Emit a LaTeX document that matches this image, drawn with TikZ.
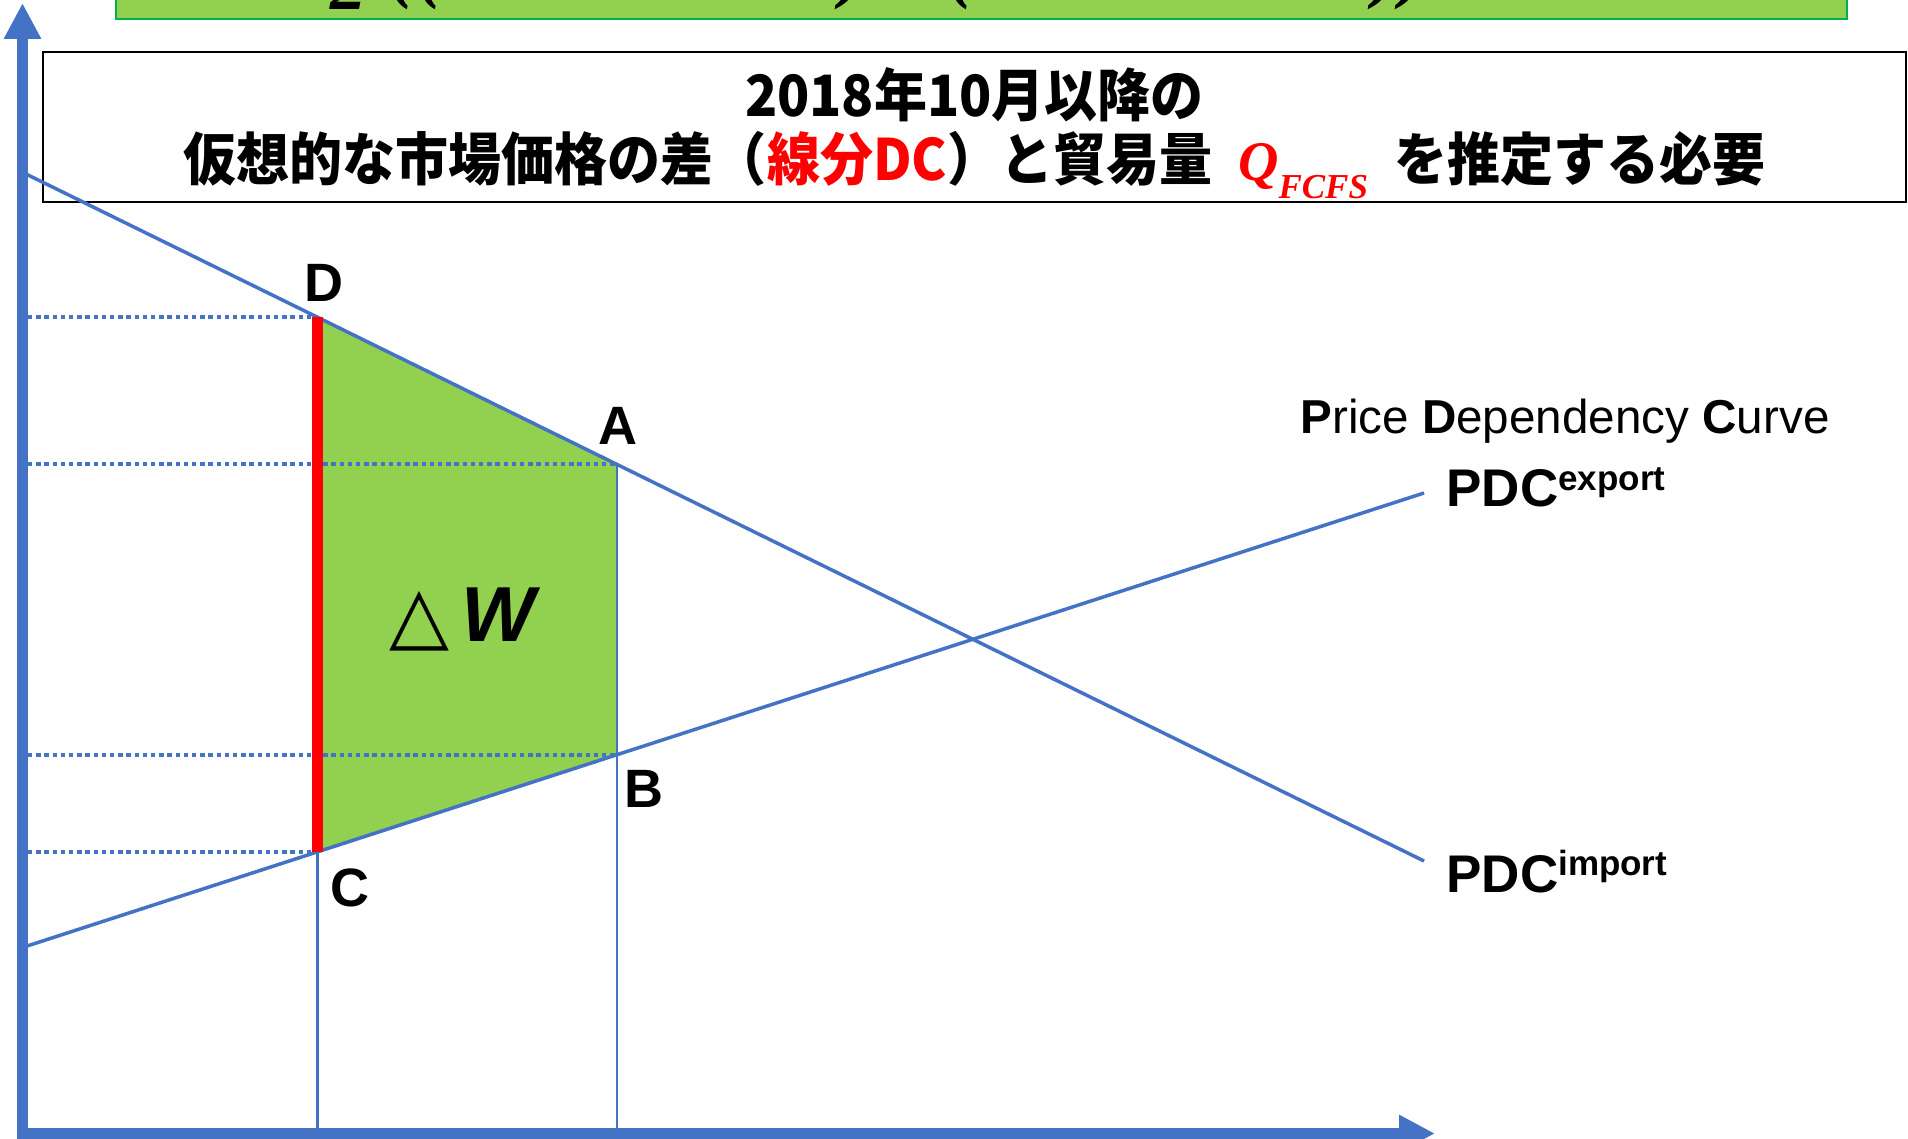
\documentclass[tikz,border=0pt]{standalone}
\usepackage{fontspec}
\setmainfont{Liberation Sans}
\newfontfamily\jp{Noto Sans CJK JP}[FakeStretch=0.93]
\newfontfamily\sym{DejaVu Sans}
\newfontfamily\qfont{Liberation Serif}
\usetikzlibrary{arrows.meta}
\definecolor{axblue}{HTML}{4472C4}
\definecolor{wgreen}{HTML}{92D050}
\definecolor{bgreen}{HTML}{00B050}
\begin{document}
\begin{tikzpicture}[x=0.5pt,y=-0.5pt,
  curve/.style={draw=axblue, line width=1.75pt},
  drop/.style={draw=axblue, line width=1.3pt},
  guide/.style={draw=axblue, line width=1.9pt, dash pattern=on 2.2pt off 1.9pt},
  axisline/.style={draw=axblue, line width=5.5pt, -{Triangle[length=18pt,width=17.5pt]}},
  ptlabel/.style={font=\fontsize{27}{27}\selectfont\bfseries, inner sep=0pt},
  pdc/.style={font=\fontsize{26.5}{26.5}\selectfont\bfseries, inner sep=0pt, anchor=base west},
  frag/.style={font=\fontsize{36}{36}\selectfont\qfont\bfseries\itshape, inner sep=0pt, anchor=south},
  titlebox/.style={draw=black, line width=0.9pt, fill=white, minimum width=931.5pt, minimum height=75pt, inner sep=0pt},
  titletext/.style={inner sep=0pt, align=center, font=\fontsize{28.5}{32}\selectfont\jp\bfseries}
]
\useasboundingbox (0,0) rectangle (1908,1139);
\clip (0,0) rectangle (1908,1139);

% top green box (cut off)
\path[draw=bgreen, fill=wgreen, line width=1.2pt] (116,-40) rectangle (1847,19);
\begin{scope}
  \clip (117,0) rectangle (1846,18);
  \node[frag] (f1) at (348,10) {2};
  \node[frag] (f2) at (402,10) {(};
  \node[frag] (f3) at (430,10) {(};
  \node[frag] (f4) at (852,10) {)};
  \node[frag] (f5) at (961,10) {(};
  \node[frag] (f6) at (1385,10) {)};
  \node[frag] (f7) at (1412,10) {)};
\end{scope}
\begin{scope}
  \clip (0,0) rectangle (8,13);
  \node[frag] (f0) at (0,11) {)};
\end{scope}

% title box
\node[titlebox] (title) at (974.5,127) {};
\node[titletext] (titletxt) at (974.5,133)
  {2018年10月以降の\\
   仮想的な市場価格の差（{\color{red}線分DC}）と貿易量\hspace{13pt}{\color{red}\qfont\bfseries\itshape{\fontsize{28}{28}\selectfont Q}\raisebox{-0.32em}{\fontsize{17.5}{17.5}\selectfont FCFS}}\hspace{13pt}を推定する必要};

% key points
\coordinate (imS) at (22.5,172.3);
\coordinate (imE) at (1424,861);
\coordinate (exS) at (22.5,947.5);
\coordinate (exE) at (1424,493);
\coordinate (D) at (317.5,317.3);
\coordinate (A) at (617,464.4);
\coordinate (B) at (617,754.7);
\coordinate (C) at (317.5,851.8);
\coordinate (yax) at (28,0);
\coordinate (xax) at (0,1133.5);

% welfare area
\fill[wgreen] (D) -- (A) -- (B) -- (C) -- cycle;

% curves
\draw[curve] (imS) -- (imE);
\draw[curve] (exS) -- (exE);

% drop lines
\draw[drop] (A) -- (A |- xax);
\draw[drop] (C) -- (C |- xax);

% guides
\draw[guide] (D -| yax) -- (D);
\draw[guide] (A -| yax) -- (A);
\draw[guide] (B -| yax) -- (B);
\draw[guide] (C -| yax) -- (C);

% segment DC
\draw[red, line width=5.8pt] (D) -- (C);

% axes
\draw[axisline] (22.5,1150) -- (22.5,3);
\draw[axisline] (17,1133.5) -- (1435,1133.5);

% labels
\node[ptlabel] (lD) at (324,283) {D};
\node[ptlabel] (lA) at (618,426) {A};
\node[ptlabel] (lB) at (643.5,789) {B};
\node[ptlabel] (lC) at (349.5,887.5) {C};

\node[inner sep=0pt, font=\fontsize{39}{39}\selectfont] (dw) at (462,619) {{\sym △}\kern 6pt{\bfseries\itshape W}};

\node[inner sep=0pt, anchor=base west, font=\fontsize{23.8}{23.8}\selectfont] (pdcname) at (1300,434) {\textbf{P}rice \textbf{D}ependency \textbf{C}urve};
\node[pdc] (pex) at (1446,507) {PDC\raisebox{8.5pt}{\fontsize{17.5}{17.5}\selectfont export}};
\node[pdc] (pim) at (1446,892) {PDC\raisebox{8.5pt}{\fontsize{17.5}{17.5}\selectfont import}};
\end{tikzpicture}
\end{document}
